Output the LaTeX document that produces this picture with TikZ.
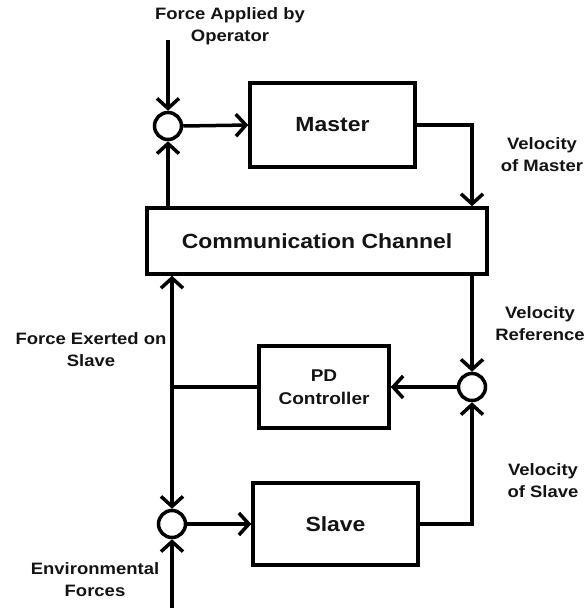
\documentclass[tikz,border=0pt]{standalone}
\usepackage{fontspec}
\setmainfont{Liberation Sans}[FakeStretch=1.12]
\usetikzlibrary{arrows.meta,calc}
\tikzset{
  blk/.style={draw, line width=3.5pt, rectangle, inner sep=0pt, align=center, text=black!92, font=\bfseries\fontsize{20.5}{24}\selectfont},
  sumc/.style={draw, line width=3.5pt, circle, minimum size=27pt, inner sep=0pt},
  lbl/.style={align=center, inner sep=0pt, text=black!92, font=\bfseries\fontsize{16.5}{22}\selectfont},
  wire/.style={line width=3.5pt},
  arr/.style={line width=3.5pt, -{Straight Barb[length=10pt,width=22pt]}},
}
\begin{document}
\begin{tikzpicture}[x=1pt,y=-1pt]
\useasboundingbox (0,0) rectangle (587,610);
% blocks
\node[blk, minimum width=165pt, minimum height=84pt] (master) at (332.5,125) {Master};
\node[blk, minimum width=340pt, minimum height=66pt] (comm) at (317,241) {Communication Channel};
\node[blk, minimum width=130pt, minimum height=82pt, font=\bfseries\fontsize{17}{23}\selectfont] (pd) at (324,387) {PD\\Controller};
\node[blk, minimum width=165pt, minimum height=82pt] (slave) at (335.5,524) {Slave};
% summing junctions
\node[sumc] (s1) at (168,126) {};
\node[sumc] (s2) at (472,387) {};
\node[sumc] (s3) at (172,524) {};
% free ends
\coordinate (fin) at (168,40);
\coordinate (env) at (172,608);
\coordinate (j) at (172,387);
% labels
\node[lbl] (lop) at (230,26) {Force Applied by\\Operator};
\node[lbl] (lvm) at (542,155) {Velocity\\of Master};
\node[lbl] (lvr) at (540,324) {Velocity\\Reference};
\node[lbl] (lfe) at (91,350) {Force Exerted on\\Slave};
\node[lbl] (lvs) at (543,481) {Velocity\\of Slave};
\node[lbl] (lenv) at (95,580) {Environmental\\Forces};
% connectors
\draw[arr] (fin) -- (s1.north);
\draw[arr] (s1.east) -- (master.west);
\draw[arr] (master.east) -| (comm.north -| s2);
\draw[arr] (comm.north -| s1) -- (s1.south);
\draw[arr] (comm.south -| s2) -- (s2.north);
\draw[arr] (s2.west) -- (pd.east);
\draw[wire] (pd.west) -- (j);
\draw[arr] (j) -- (comm.south -| j);
\draw[arr] (j) -- (s3.north);
\draw[arr] (env) -- (s3.south);
\draw[arr] (s3.east) -- (slave.west);
\draw[arr] (slave.east) -| (s2.south);
\end{tikzpicture}
\end{document}
